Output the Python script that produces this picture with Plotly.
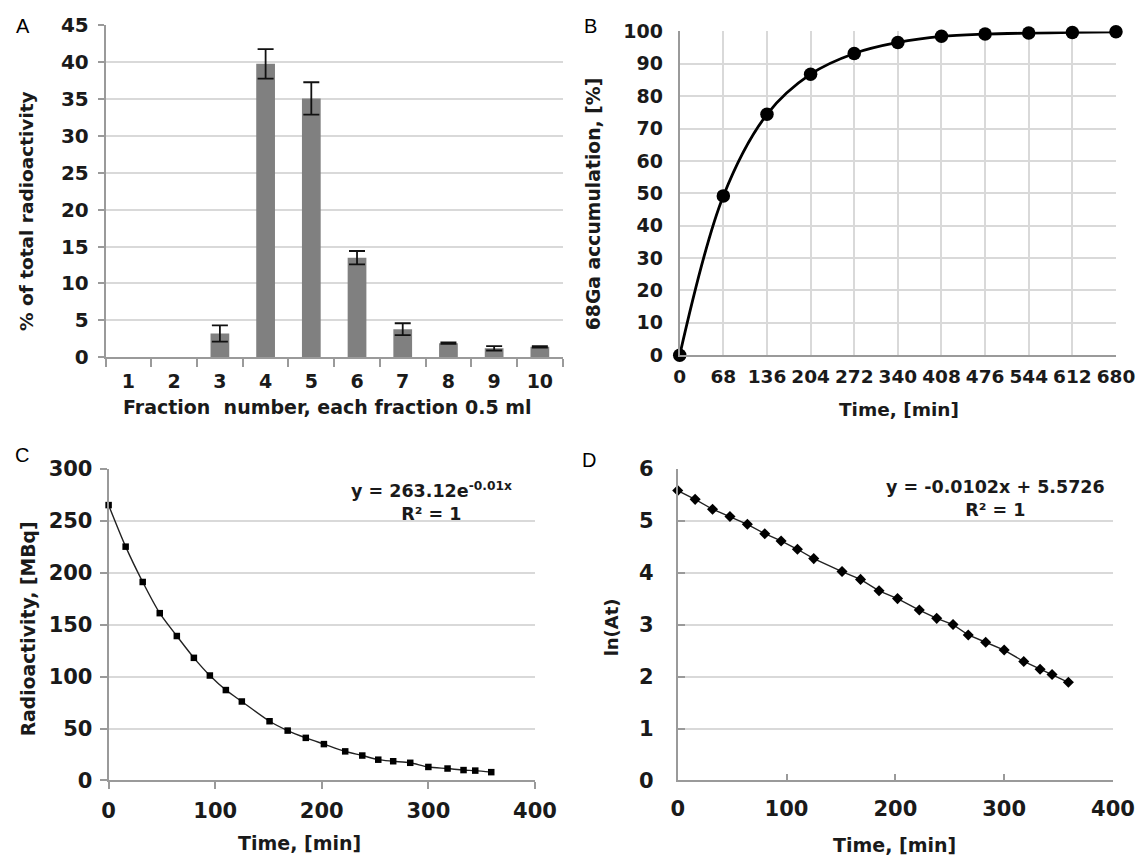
import plotly.graph_objects as go

W, H = 1144, 861

# ---- Panel A data ----
fractions = ["1", "2", "3", "4", "5", "6", "7", "8", "9", "10"]
pct_total = [0, 0, 3.2, 39.8, 35.1, 13.5, 3.8, 1.9, 1.2, 1.4]
pct_err = [0, 0, 1.1, 2.0, 2.2, 0.9, 0.8, 0.1, 0.3, 0.1]

# ---- Panel B data ----
acc_time = [0, 68, 136, 204, 272, 340, 408, 476, 544, 612, 680]
acc_pct = [0, 49.2, 74.4, 86.8, 93.2, 96.6, 98.5, 99.2, 99.5, 99.7, 99.9]
acc_ticks = [0, 68, 136, 204, 272, 340, 408, 476, 544, 612, 680]

# ---- Panel C / D data ----
decay_time = [0, 16, 32, 48, 64, 80, 95, 110, 125, 151, 168, 185, 202,
              222, 238, 253, 267, 283, 300, 318, 333, 344, 359]
activity = [265, 225, 191, 161, 139, 118, 101, 87, 76, 57, 48, 41, 35,
            28, 24, 20, 18.5, 17, 13, 11.5, 10, 9.5, 8]
ln_activity = [5.58, 5.41, 5.22, 5.08, 4.93, 4.75, 4.61, 4.45, 4.27, 4.02,
               3.87, 3.65, 3.50, 3.28, 3.12, 3.00, 2.80, 2.66, 2.51, 2.29,
               2.14, 2.04, 1.89]

FONT = "DejaVu Sans"
LETTER_FONT = "Liberation Sans"
TXT = "#1a1a1a"
AXC = "#9a9a9a"
GRID = "#d9d9d9"

# calibration of target picture pixels -> layout pixels
SXA, SXS = 12.6, 0.983
SYA, SYS = 18.5, 0.976


def px(t):
    return ((t - SXA) / SXS) / W


def py(t):
    return 1 - ((t - SYA) / SYS) / H


def dom_x(a, b):
    return [px(a), min(px(b), 1.0)]


def dom_y(top, bot):
    return [py(bot), min(py(top), 1.0)]


def tf(size):
    return dict(family=FONT, size=size, color=TXT, weight="bold")


bar_y = [v if v > 0 else None for v in pct_total]
bar_err = [e if v > 0 else None for v, e in zip(pct_total, pct_err)]

fig = go.Figure()

# Panel A
fig.add_trace(go.Bar(
    x=fractions, y=bar_y, xaxis="x", yaxis="y",
    marker=dict(color="#808080", line=dict(width=0)), width=0.41,
    error_y=dict(type="data", array=bar_err, visible=True, color="#111111",
                 thickness=1.8, width=8),
    showlegend=False))

# Panel B
fig.add_trace(go.Scatter(
    x=acc_time, y=acc_pct, xaxis="x2", yaxis="y2", mode="lines+markers",
    line=dict(color="#000000", width=2.8, shape="spline", smoothing=1.0),
    marker=dict(color="#000000", size=13.5, symbol="circle"),
    cliponaxis=False, showlegend=False))

# Panel C
fig.add_trace(go.Scatter(
    x=decay_time, y=activity, xaxis="x3", yaxis="y3", mode="lines+markers",
    line=dict(color="#222222", width=1.4, shape="spline", smoothing=0.8),
    marker=dict(color="#000000", size=6.5, symbol="square"),
    cliponaxis=False, showlegend=False))

# Panel D
fig.add_trace(go.Scatter(
    x=decay_time, y=ln_activity, xaxis="x4", yaxis="y4", mode="lines+markers",
    line=dict(color="#222222", width=1.4),
    marker=dict(color="#000000", size=8.5, symbol="diamond"),
    cliponaxis=False, showlegend=False))

base = dict(showline=True, linecolor=AXC, linewidth=1.8, zeroline=False,
            tickcolor=AXC, tickwidth=1.8, title=dict(text=""))

fig.update_layout(
    width=W, height=H, margin=dict(l=0, r=0, t=0, b=0),
    paper_bgcolor="white", plot_bgcolor="white",
    font=dict(family=FONT, color=TXT),
    # A
    xaxis=dict(domain=dom_x(104, 565), anchor="y", type="category",
               tickson="boundaries", showgrid=False, ticks="outside", ticklen=8,
               tickfont=tf(19), ticklabelstandoff=6, **base),
    yaxis=dict(domain=dom_y(24, 357), anchor="x", range=[0, 45], dtick=5,
               showgrid=True, gridcolor=GRID, gridwidth=1.8, ticks="outside",
               ticklen=6, tickfont=tf(20), ticklabelstandoff=5, **base),
    # B
    xaxis2=dict(domain=dom_x(683, 1123), anchor="y2", range=[0, 680],
                tickvals=acc_ticks, showgrid=True, gridcolor=GRID, gridwidth=1.8,
                ticks="", tickfont=tf(18.5), ticklabelstandoff=4, **base),
    yaxis2=dict(domain=dom_y(30, 355), anchor="x2", range=[0, 100], dtick=10,
                showgrid=True, gridcolor=GRID, gridwidth=1.8,
                ticks="", tickfont=tf(19), ticklabelstandoff=11, **base),
    # C
    xaxis3=dict(domain=dom_x(107, 537), anchor="y3", range=[0, 400], dtick=100,
                showgrid=False, ticks="outside", ticklen=7,
                tickfont=tf(21), ticklabelstandoff=3, **base),
    yaxis3=dict(domain=dom_y(469, 782), anchor="x3", range=[0, 300], dtick=50,
                showgrid=True, gridcolor=GRID, gridwidth=1.8, ticks="outside",
                ticklen=7, tickfont=tf(21), ticklabelstandoff=3, **base),
    # D
    xaxis4=dict(domain=dom_x(681, 1120), anchor="y4", range=[0, 400], dtick=100,
                showgrid=False, ticks="inside", ticklen=7,
                tickfont=tf(21), ticklabelstandoff=8, **base),
    yaxis4=dict(domain=dom_y(469, 782), anchor="x4", range=[0, 6], dtick=1,
                showgrid=True, gridcolor=GRID, gridwidth=1.8, ticks="inside",
                ticklen=7, tickfont=tf(21), ticklabelstandoff=18, **base),
)


def note(text, x, y, size, angle=0, font=FONT, weight="bold", color=TXT):
    fig.add_annotation(xref="paper", yref="paper", x=px(x), y=py(y),
                       text=text, showarrow=False, xanchor="center",
                       yanchor="middle", textangle=angle, align="center",
                       font=dict(family=font, size=size, color=color,
                                 weight=weight))


# panel letters
note("A", 21, 25, 20, font=LETTER_FONT, weight="normal", color="#000000")
note("B", 593, 25, 20, font=LETTER_FONT, weight="normal", color="#000000")
note("C", 20, 455, 20, font=LETTER_FONT, weight="normal", color="#000000")
note("D", 592, 460, 20, font=LETTER_FONT, weight="normal", color="#000000")

# axis titles
note("Fraction\u00a0 number, each fraction 0.5 ml", 328, 407, 19)
note("% of total radioactivity", 24, 210, 18.5, angle=-90)
note("Time, [min]", 904, 410, 18.5)
note("68Ga accumulation, [%]", 596, 203, 18.8, angle=-90)
note("Time, [min]", 300, 845, 19)
note("Radioactivity, [MBq]", 26, 630, 18.8, angle=-90)
note("Time, [min]", 900, 847, 19)
note("ln(At)", 614, 628, 18, angle=-90)

# trendline equations
note("y = 263.12e<sup>-0.01x</sup><br>R² = 1", 433, 502, 17.5)
note("y = -0.0102x + 5.5726<br>R² = 1", 1002, 499, 17.5)

fig.write_html("out.html")
